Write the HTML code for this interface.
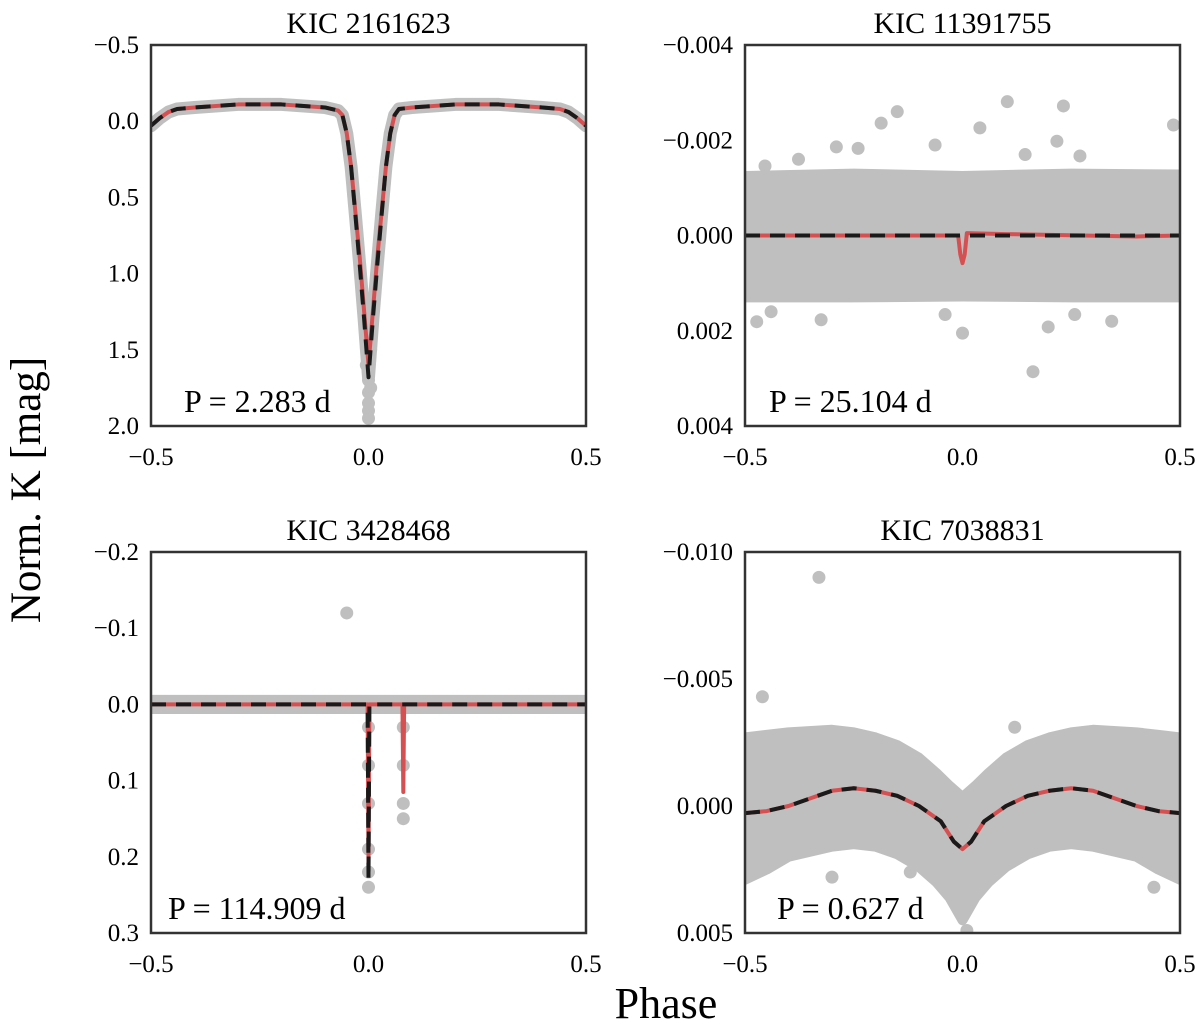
<!DOCTYPE html>
<html><head><meta charset="utf-8">
<style>
html,body{margin:0;padding:0;background:#fff;}
svg{display:block;font-family:"Liberation Serif",serif;}
</style></head>
<body>
<svg id="fig" width="1200" height="1027" viewBox="0 0 1200 1027">
<text x="40" y="490" font-size="43" text-anchor="middle" transform="rotate(-90 40 490)">Norm. K [mag]</text>
<text x="666" y="1018" font-size="44" text-anchor="middle">Phase</text>
</svg>
<script>
// ---- Panel 1: KIC 2161623 ----
const p1ModelX = [-0.5,-0.48,-0.46,-0.44,-0.4,-0.3,-0.2,-0.1,-0.07,-0.06,-0.05,-0.04,-0.03,-0.02,-0.01,0,0.01,0.02,0.03,0.04,0.05,0.06,0.07,0.1,0.2,0.3,0.4,0.44,0.46,0.48,0.5];
const p1ModelY = [0.03,-0.02,-0.06,-0.08,-0.09,-0.11,-0.11,-0.09,-0.07,-0.04,0.08,0.3,0.6,0.9,1.25,1.6,1.25,0.9,0.6,0.3,0.08,-0.04,-0.08,-0.09,-0.11,-0.11,-0.09,-0.08,-0.06,-0.02,0.03];
const p1Model2Y = [0.03,-0.02,-0.06,-0.08,-0.09,-0.11,-0.11,-0.09,-0.07,-0.04,0.08,0.3,0.62,0.95,1.3,1.68,1.3,0.95,0.62,0.3,0.08,-0.04,-0.08,-0.09,-0.11,-0.11,-0.09,-0.08,-0.06,-0.02,0.03];
const p1PtsX = [0,0,0,0,0,0.005,-0.005,0.005];
const p1PtsY = [1.7,1.78,1.85,1.9,1.95,1.75,1.6,1.5];
// ---- Panel 2: KIC 11391755 ----
const p2BandX = [-0.5,-0.25,0,0.25,0.5];
const p2BandUp = [-0.00125,-0.0013,-0.00125,-0.0013,-0.00128];
const p2BandLo = [0.0013,0.0013,0.00128,0.0013,0.0013];
const p2PtsX = [0.103,0.232,-0.15,-0.187,0.04,0.485,0.217,-0.29,-0.24,-0.063,0.27,0.144,-0.377,-0.454,-0.473,-0.325,-0.04,0.0,0.197,0.162,0.343,0.258,-0.44];
const p2PtsY = [-0.00281,-0.00272,-0.0026,-0.00236,-0.00226,-0.00232,-0.00198,-0.00186,-0.00183,-0.0019,-0.00167,-0.0017,-0.0016,-0.00146,0.00181,0.00177,0.00166,0.00205,0.00192,0.00286,0.0018,0.00166,0.0016];
const p2RedX = [-0.5,-0.01,-0.005,0,0.005,0.01,0.1,0.4,0.5];
const p2RedY = [0,0,0.0004,0.00058,0.0004,-0.00005,-0.00003,0.00002,0];
const p2BlackX = [-0.5,0.5];
const p2BlackY = [0,0];
// ---- Panel 3: KIC 3428468 ----
const p3BandX = [-0.5,0.5];
const p3BandUp = [-0.006,-0.006];
const p3BandLo = [0.006,0.006];
const p3PtsX = [-0.05,0,0,0,0,0,0,0.08,0.08,0.08,0.08];
const p3PtsY = [-0.12,0.03,0.08,0.13,0.19,0.22,0.24,0.03,0.08,0.13,0.15];
const p3RedX = [-0.5,-0.002,0,0.002,0.078,0.08,0.082,0.5];
const p3RedY = [0,0,0.21,0,0,0.115,0,0];
const p3BlackX = [-0.5,-0.002,0,0.002,0.5];
const p3BlackY = [0,0,0.23,0,0];
// ---- Panel 4: KIC 7038831 ----
const p4BandX = [-0.5,-0.45,-0.4,-0.3,-0.25,-0.2,-0.15,-0.1,-0.06,-0.03,0,0.03,0.06,0.1,0.15,0.2,0.25,0.3,0.4,0.45,0.5];
const p4BandUp = [-0.0027,-0.0028,-0.0029,-0.003,-0.0029,-0.0027,-0.0024,-0.0019,-0.0013,-0.0008,-0.00035,-0.0008,-0.0013,-0.0019,-0.0024,-0.0027,-0.0029,-0.003,-0.0029,-0.0028,-0.0027];
const p4BandLo = [0.0029,0.0025,0.002,0.0016,0.0015,0.0016,0.0019,0.0024,0.003,0.0036,0.0045,0.0036,0.003,0.0024,0.0019,0.0016,0.0015,0.0016,0.002,0.0025,0.0029];
const p4PtsX = [-0.33,-0.46,0.12,0.01,-0.3,0.44,-0.12];
const p4PtsY = [-0.009,-0.0043,-0.0031,0.0049,0.0028,0.0032,0.0026];
const p4ModelX = [-0.5,-0.45,-0.4,-0.35,-0.3,-0.25,-0.2,-0.15,-0.1,-0.05,-0.02,0,0.02,0.05,0.1,0.15,0.2,0.25,0.3,0.35,0.4,0.45,0.5];
const p4ModelY = [0.00028,0.0002,0.0,-0.0003,-0.0006,-0.0007,-0.0006,-0.0004,0.0000,0.0006,0.0014,0.0017,0.0014,0.0006,0.0000,-0.0004,-0.0006,-0.0007,-0.0006,-0.0003,0.0,0.0002,0.00028];

const NS = 'http://www.w3.org/2000/svg';
const svg = document.getElementById('fig');
function mk(tag, attrs, parent){const e=document.createElementNS(NS,tag);for(const k in attrs)e.setAttribute(k,attrs[k]);(parent||svg).appendChild(e);return e;}

function panel(cfg){
  const g = mk('g',{});
  
  
  const L=cfg.x0,R=cfg.x0+435,T=cfg.y0,B=cfg.y0+381;
  const sx = v => L + (v+0.5)*435;
  const sy = v => T + (v-cfg.ymin)/(cfg.ymax-cfg.ymin)*381;
  const clipId='clip'+cfg.id;
  const cp=mk('clipPath',{id:clipId},g); mk('rect',{x:L,y:T,width:435,height:381},cp);
  const plot=mk('g',{'clip-path':'url(#'+clipId+')'},g);
  if(cfg.bandX){
    let d='';
    cfg.bandX.forEach((x,i)=>{d+=(i?'L':'M')+sx(x)+' '+sy(cfg.bandUp[i]);});
    for(let i=cfg.bandX.length-1;i>=0;i--) d+='L'+sx(cfg.bandX[i])+' '+sy(cfg.bandLo[i]);
    d+='Z';
    const b=mk('path',{d:d,fill:'#bfbfbf',stroke:'#bfbfbf','stroke-width':10,'stroke-linejoin':'round'},plot);
    
    
  }
  if(cfg.grayLineX){
    const gl=mk('polyline',{points:cfg.grayLineX.map((x,i)=>sx(x)+','+sy(cfg.grayLineY[i])).join(' '),fill:'none',stroke:'#bfbfbf','stroke-width':13,'stroke-linejoin':'round','stroke-linecap':'round'},plot);
    
    
  }
  cfg.ptsX.forEach((x,i)=>{
    const c=mk('circle',{cx:sx(x),cy:sy(cfg.ptsY[i]),r:6.5,fill:'#bfbfbf'},plot);
    
    
  });
  const red=mk('polyline',{points:cfg.redX.map((x,i)=>sx(x)+','+sy(cfg.redY[i])).join(' '),fill:'none',stroke:'#d65052','stroke-width':4,'stroke-linejoin':'round'},plot);
  
  
  const blk=mk('polyline',{points:cfg.blkX.map((x,i)=>sx(x)+','+sy(cfg.blkY[i])).join(' '),fill:'none',stroke:'#1a1a1a','stroke-width':4,'stroke-dasharray':'15 10','stroke-linejoin':'round'},plot);
  
  
  const fr=mk('rect',{x:L,y:T,width:435,height:381,fill:'none',stroke:'#333','stroke-width':2.5},g);
  
  
  cfg.yticks.forEach((v,i)=>{
    const t=mk('text',{x:L-12,y:sy(v)+8,'font-size':25,'text-anchor':'end'},g);
    t.textContent=cfg.ylabels[i];
    
    
  });
  xTicks.forEach((v,i)=>{
    const t=mk('text',{x:sx(v),y:B+39,'font-size':25,'text-anchor':'middle'},g);
    t.textContent=xLabels[i];
    
    
  });
  const ti=mk('text',{x:(L+R)/2,y:T-12,'font-size':30,'text-anchor':'middle'},g);
  ti.textContent=cfg.title;
  
  
  const pl=mk('text',{x:L+cfg.px,y:B-14,'font-size':32},g);
  pl.textContent=cfg.period;
  
  
}
const xTicks=[-0.5,0,0.5];
const xLabels=['\u22120.5','0.0','0.5'];
const p1Ticks=[-0.5,0,0.5,1,1.5,2], p1Labels=['\u22120.5','0.0','0.5','1.0','1.5','2.0'];
const p2Ticks=[-0.004,-0.002,0,0.002,0.004], p2Labels=['\u22120.004','\u22120.002','0.000','0.002','0.004'];
const p3Ticks=[-0.2,-0.1,0,0.1,0.2,0.3], p3Labels=['\u22120.2','\u22120.1','0.0','0.1','0.2','0.3'];
const p4Ticks=[-0.01,-0.005,0,0.005], p4Labels=['\u22120.010','\u22120.005','0.000','0.005'];

panel({id:1,name:'panel-kic-2161623',x0:151,y0:45,ymin:-0.5,ymax:2.0,grayLineX:p1ModelX,grayLineY:p1Model2Y,ptsX:p1PtsX,ptsY:p1PtsY,redX:p1ModelX,redY:p1ModelY,blkX:p1ModelX,blkY:p1Model2Y,yticks:p1Ticks,ylabels:p1Labels,title:'KIC 2161623',period:'P = 2.283 d',px:33});
panel({id:2,name:'panel-kic-11391755',x0:745,y0:45,ymin:-0.004,ymax:0.004,bandX:p2BandX,bandUp:p2BandUp,bandLo:p2BandLo,ptsX:p2PtsX,ptsY:p2PtsY,redX:p2RedX,redY:p2RedY,blkX:p2BlackX,blkY:p2BlackY,yticks:p2Ticks,ylabels:p2Labels,title:'KIC 11391755',period:'P = 25.104 d',px:24});
panel({id:3,name:'panel-kic-3428468',x0:151,y0:552,ymin:-0.2,ymax:0.3,bandX:p3BandX,bandUp:p3BandUp,bandLo:p3BandLo,ptsX:p3PtsX,ptsY:p3PtsY,redX:p3RedX,redY:p3RedY,blkX:p3BlackX,blkY:p3BlackY,yticks:p3Ticks,ylabels:p3Labels,title:'KIC 3428468',period:'P = 114.909 d',px:17});
panel({id:4,name:'panel-kic-7038831',x0:745,y0:552,ymin:-0.01,ymax:0.005,bandX:p4BandX,bandUp:p4BandUp,bandLo:p4BandLo,ptsX:p4PtsX,ptsY:p4PtsY,redX:p4ModelX,redY:p4ModelY,blkX:p4ModelX,blkY:p4ModelY,yticks:p4Ticks,ylabels:p4Labels,title:'KIC 7038831',period:'P = 0.627 d',px:32});
</script>
</body></html>
